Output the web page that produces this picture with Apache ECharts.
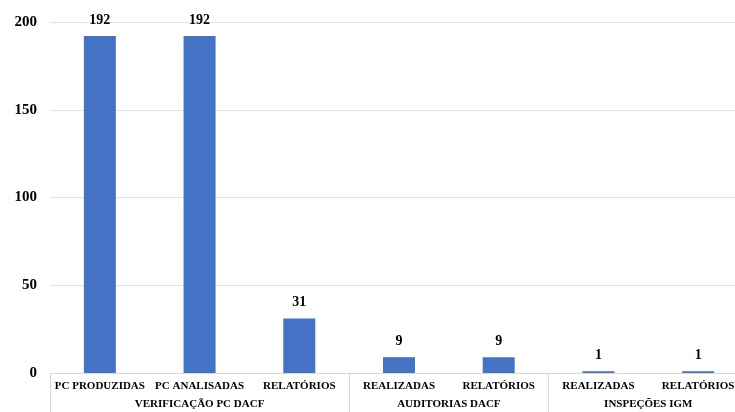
<!DOCTYPE html>
<html>
<head>
<meta charset="utf-8">
<script src="https://cdn.jsdelivr.net/npm/echarts@6/dist/echarts.min.js"></script>
<style>html,body{margin:0;padding:0;background:#fff}#c{width:735px;height:412px}</style>
</head>
<body>
<div id="c"></div>
<script>
var categories = ['PC PRODUZIDAS', 'PC ANALISADAS', 'RELATÓRIOS', 'REALIZADAS', 'RELATÓRIOS', 'REALIZADAS', 'RELATÓRIOS'];
var values = [192, 192, 31, 9, 9, 1, 1];
var groups = ['VERIFICAÇÃO PC DACF', 'AUDITORIAS DACF', 'INSPEÇÕES IGM'];
var groupSizes = [3, 2, 2];
var yTicks = [0, 50, 100, 150, 200];

var bounds = [0], centers = [], acc = 0;
groupSizes.forEach(function (n) { centers.push(acc + n / 2); acc += n; bounds.push(acc); });

var font = 'Liberation Serif';
var chart = echarts.init(document.getElementById('c'));
chart.setOption({
  animation: false,
  grid: { left: 50, width: 698, top: 22, bottom: 39, containLabel: false, outerBoundsMode: 'none' },
  xAxis: [{
    type: 'category',
    data: categories,
    axisLine: { lineStyle: { color: '#d9d9d9' } },
    axisTick: { show: false },
    axisLabel: { interval: 0, color: '#000', fontFamily: font, fontWeight: 'bold', fontSize: 11, margin: 8 }
  }, {
    type: 'value', position: 'bottom', min: 0, max: acc,
    axisLine: { show: false },
    splitLine: { show: false },
    axisTick: { show: true, customValues: bounds, length: 40, lineStyle: { color: '#d9d9d9' } },
    axisLabel: {
      customValues: centers, color: '#000', fontFamily: font, fontWeight: 'bold', fontSize: 11, margin: 26,
      formatter: function (v) { var i = centers.indexOf(v); return i >= 0 ? groups[i] : ''; }
    }
  }],
  yAxis: {
    type: 'value', min: yTicks[0], max: yTicks[yTicks.length - 1], interval: 50,
    axisLine: { show: false }, axisTick: { show: false },
    splitLine: { lineStyle: { color: '#dce3ee' } },
    axisLabel: { color: '#000', fontFamily: font, fontWeight: 'bold', fontSize: 15, margin: 13 }
  },
  series: [{
    type: 'bar', data: values, barWidth: 32, xAxisIndex: 0,
    itemStyle: { color: '#4472c4' },
    label: { show: true, position: 'top', distance: 9, color: '#000', fontFamily: font, fontWeight: 'bold', fontSize: 14 }
  }]
});
</script>
</body>
</html>
